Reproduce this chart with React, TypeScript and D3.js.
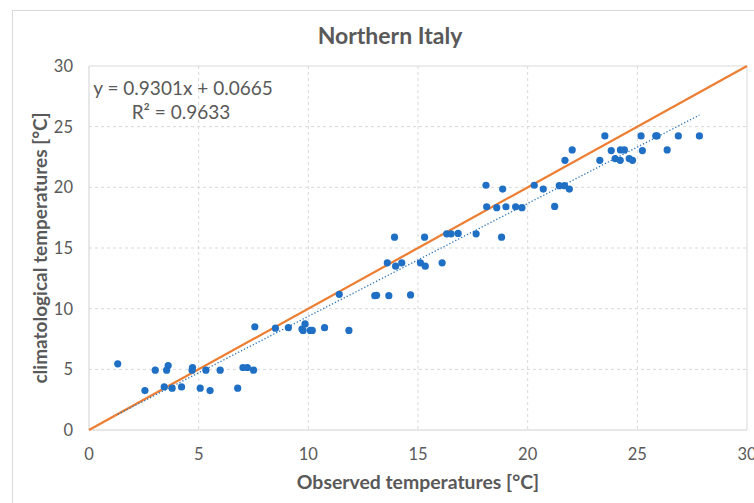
import React from "react";
import * as d3 from "d3";

const observed: number[] = [
  1.31, 2.55, 3.02, 3.43, 3.54, 3.61, 3.79, 4.22, 4.70, 4.72, 5.07, 5.33, 5.52, 5.98, 6.78, 7.02, 7.22, 7.50,
  7.56, 8.50, 9.09, 9.71, 9.76, 9.85, 10.09, 10.18, 10.74, 11.85, 11.41, 13.03, 13.11, 13.67, 14.66,
  13.60, 13.98, 14.26, 13.93, 15.11, 15.33, 16.10, 15.30, 16.31, 16.51, 16.83, 17.65, 18.81,
  18.10, 18.13, 18.59, 18.86, 19.01, 19.45, 19.74, 20.30, 20.71, 21.23, 21.44, 21.68, 21.90,
  21.70, 22.03, 23.29, 23.52, 23.81, 23.99, 24.22, 24.23, 24.41, 24.63, 24.78, 25.17, 25.23,
  25.84, 25.90, 26.36, 26.87, 27.83,
];
const climatological: number[] = [
  5.45, 3.25, 4.93, 3.55, 4.93, 5.31, 3.45, 3.55, 4.93, 5.15, 3.45, 4.93, 3.25, 4.93, 3.45, 5.15, 5.15, 4.93,
  8.51, 8.39, 8.43, 8.32, 8.21, 8.74, 8.21, 8.21, 8.43, 8.21, 11.18, 11.07, 11.10, 11.07, 11.13,
  13.78, 13.50, 13.78, 15.89, 13.78, 13.50, 13.78, 15.89, 16.17, 16.17, 16.20, 16.17, 15.89,
  20.17, 18.40, 18.32, 19.86, 18.40, 18.40, 18.32, 20.17, 19.86, 18.43, 20.14, 20.14, 19.86,
  22.23, 23.08, 22.23, 24.24, 23.03, 22.37, 22.23, 23.08, 23.08, 22.37, 22.23, 24.24, 23.03,
  24.24, 24.24, 23.08, 24.24, 24.24,
];
const xTicks: number[] = [0, 5, 10, 15, 20, 25, 30];
const yTicks: number[] = [0, 5, 10, 15, 20, 25, 30];
const trendSlope = 0.9301;
const trendIntercept = 0.0665;
const titleText = "Northern Italy";
const xTitle = "Observed temperatures [°C]";
const yTitle = "climatological temperatures [°C]";
const eqText = "y = 0.9301x + 0.0665";
const r2Text = "R² = 0.9633";

const W = 754;
const H = 503;
const L = 89, R = 747, T = 66, B = 430;
const FONT = "Lato, 'Open Sans', sans-serif";
const TXT = "#595959";
const GRID = "#d9d9d9";

export default function App() {
  const x = d3.scaleLinear().domain([0, 30]).range([L, R]);
  const y = d3.scaleLinear().domain([0, 30]).range([B, T]);
  const xmin = d3.min(observed) as number;
  const xmax = d3.max(observed) as number;
  const trend = d3.line<number>().x((v) => x(v)).y((v) => y(trendSlope * v + trendIntercept));
  const ident = d3.line<number>().x((v) => x(v)).y((v) => y(v));

  return (
    <svg width={W} height={H} style={{ position: "absolute", left: 0, top: 0, background: "#fff" }}>
      <rect x={12.5} y={10.5} width={W + 10} height={H + 10} fill="#fff" stroke={GRID} strokeWidth={1} />
      {xTicks.slice(1, -1).map((t) => (
        <line key={"gx" + t} x1={x(t)} x2={x(t)} y1={T} y2={B} stroke={GRID} strokeDasharray="3,3" />
      ))}
      {yTicks.slice(1, -1).map((t) => (
        <line key={"gy" + t} x1={L} x2={R} y1={y(t)} y2={y(t)} stroke={GRID} strokeDasharray="3,3" />
      ))}
      <line x1={L} x2={R} y1={T} y2={T} stroke={GRID} />
      <line x1={R} x2={R} y1={T} y2={B} stroke={GRID} />
      <line x1={L} x2={L} y1={T} y2={B} stroke="#d0d0d0" />
      <line x1={L} x2={R} y1={B} y2={B} stroke="#d0d0d0" />

      {xTicks.map((t) => (
        <text key={"tx" + t} x={x(t)} y={460} textAnchor="middle" fontFamily={FONT} fontSize={16.5} fill={TXT}>
          {t}
        </text>
      ))}
      {yTicks.map((t) => (
        <text key={"ty" + t} x={73} y={y(t) + 6} textAnchor="end" fontFamily={FONT} fontSize={16.5} fill={TXT}>
          {t}
        </text>
      ))}

      <path d={ident([0, 30]) as string} stroke="#ED7D31" strokeWidth={2.2} fill="none" />
      <path
        d={trend([xmin, xmax]) as string}
        stroke="#2E75B6"
        strokeWidth={1.3}
        strokeDasharray="1.3,2"
        fill="none"
      />
      {observed.map((v, i) => (
        <circle key={i} cx={x(v)} cy={y(climatological[i])} r={3.6} fill="#1F6FC5" />
      ))}

      <text x={183} y={95} textAnchor="middle" fontFamily={FONT} fontSize={19} fill={TXT}>
        {eqText}
      </text>
      <text x={181} y={119} textAnchor="middle" fontFamily={FONT} fontSize={19} fill={TXT}>
        {r2Text}
      </text>

      <text x={390} y={44} textAnchor="middle" fontFamily={FONT} fontSize={23} fontWeight="bold" fill={TXT}>
        {titleText}
      </text>
      <text x={418} y={489} textAnchor="middle" fontFamily={FONT} fontSize={19.4} fontWeight="bold" fill={TXT}>
        {xTitle}
      </text>
      <text
        transform={`translate(47, 248) rotate(-90)`}
        textAnchor="middle"
        fontFamily={FONT}
        fontSize={19}
        fontWeight="bold"
        fill={TXT}
      >
        {yTitle}
      </text>
    </svg>
  );
}
